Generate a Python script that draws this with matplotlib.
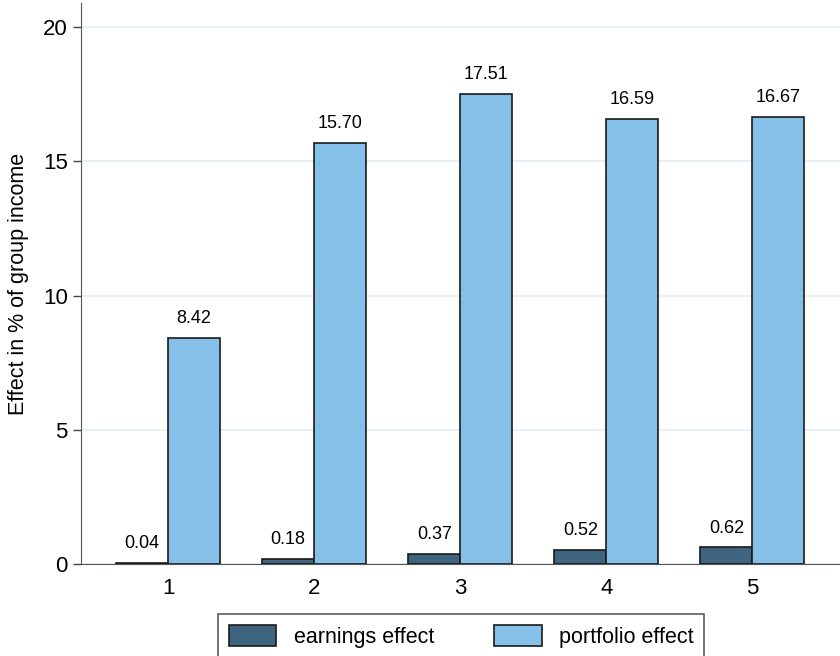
import numpy as np
import matplotlib.pyplot as plt

plt.rcParams['font.family'] = ['Liberation Sans', 'DejaVu Sans']

groups = [1, 2, 3, 4, 5]
earnings = [0.04, 0.18, 0.37, 0.52, 0.62]
portfolio = [8.42, 15.70, 17.51, 16.59, 16.67]

fig = plt.figure(figsize=(8.4, 6.56), dpi=100)
ax = fig.add_axes([0.0964, 0.1402, 0.9036, 0.855])

x = np.array(groups)
w = 0.356
b1 = ax.bar(x - w / 2, earnings, w, color='#3e6480', edgecolor='#1a1a1a', linewidth=1.2,
            label='earnings effect', zorder=3)
b2 = ax.bar(x + w / 2, portfolio, w, color='#85c0e9', edgecolor='#1a1a1a', linewidth=1.2,
            label='portfolio effect', zorder=3)

for bars, vals in ((b1, earnings), (b2, portfolio)):
    for r, v in zip(bars, vals):
        ax.text(r.get_x() + r.get_width() / 2, v + 0.4, f'{v:.2f}',
                ha='center', va='bottom', fontsize=13)

ax.set_xlim(0.404, 5.6)
ax.set_ylim(0, 20.9)
ax.set_yticks([0, 5, 10, 15, 20])
ax.set_xticks(groups)
ax.grid(axis='y', color='#e3eef3', linewidth=1.2, zorder=0)
ax.tick_params(axis='both', labelsize=16, length=6, width=1, color='#444444')
ax.tick_params(axis='x', length=0, pad=10)
ax.set_ylabel('Effect in % of group income', fontsize=15.5, labelpad=10)
for s in ['top', 'right']:
    ax.spines[s].set_visible(False)
ax.spines['left'].set_color('#555555')
ax.spines['bottom'].set_color('#555555')

leg = fig.legend(handles=[b1, b2], loc='upper center', bbox_to_anchor=(0.549, 0.08),
                 ncol=2, fontsize=15.5, frameon=True, fancybox=False, edgecolor='#333333',
                 handlelength=2.2, handleheight=1.1, columnspacing=2.8, borderpad=0.5)
leg.get_frame().set_linewidth(1.2)

fig.savefig('out.png', dpi=100, facecolor='white')
